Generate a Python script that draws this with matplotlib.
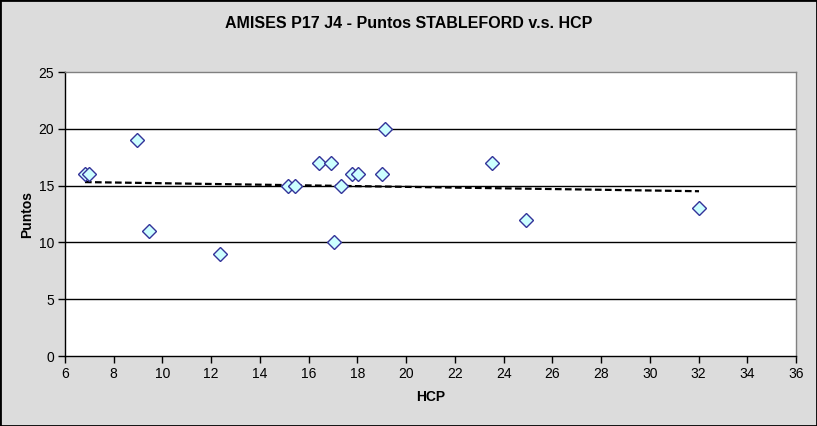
import matplotlib
matplotlib.use("Agg")
import matplotlib.pyplot as plt
import numpy as np
from matplotlib.patches import Rectangle

plt.rcParams['font.family'] = ['Liberation Sans', 'DejaVu Sans']

hcp = [6.82, 7.0, 8.95, 9.45, 12.36, 15.15, 15.44, 16.41, 16.93, 17.02,
       17.32, 17.79, 18.02, 18.99, 19.13, 23.51, 24.9, 32.02]
puntos = [16, 16, 19, 11, 9, 15, 15, 17, 17, 10,
          15, 16, 16, 16, 20, 17, 12, 13]
x_ticks = list(range(6, 37, 2))
y_ticks = [0, 5, 10, 15, 20, 25]
title = "AMISES P17 J4 - Puntos STABLEFORD v.s. HCP"

fig = plt.figure(figsize=(8.17, 4.26), dpi=100)
fig.patch.set_facecolor('#dcdcdc')
fig.patches.append(Rectangle((0, 0), 1, 1, transform=fig.transFigure,
                             fill=False, edgecolor='black', linewidth=2, zorder=10))

ax = fig.add_axes([65/817, 1-356/426, (796-65)/817, (356-72)/426])
ax.set_facecolor('white')
ax.set_xlim(6, 36)
ax.set_ylim(0, 25)
ax.set_xticks(x_ticks)
ax.set_yticks(y_ticks)
for y in y_ticks[1:-1]:
    ax.axhline(y, color='black', linewidth=1.0, zorder=1)

# trend line
coef = np.polyfit(hcp, puntos, 1)
xs = np.array([min(hcp), max(hcp)])
ax.plot(xs, np.polyval(coef, xs), linestyle=(0, (3, 1.5)), color='black',
        linewidth=1.6, zorder=2)

ax.plot(hcp, puntos, linestyle='none', marker='D', markersize=7.4,
        markerfacecolor='#ccffff', markeredgecolor='#333399',
        markeredgewidth=1.0, zorder=3)

for s in ['top', 'right']:
    ax.spines[s].set_color('#808080')
    ax.spines[s].set_linewidth(1.0)
for s in ['left', 'bottom']:
    ax.spines[s].set_color('black')
    ax.spines[s].set_linewidth(1.0)

ax.tick_params(direction='out', length=5, width=1, labelsize=10, colors='black', pad=3)

ax.set_xlabel('HCP', fontsize=10, fontweight='bold')
ax.xaxis.set_label_coords(0.5, -(397-356)/284, transform=ax.transAxes)
ax.xaxis.label.set_va('center')
ax.set_ylabel('Puntos', fontsize=10, fontweight='bold')
ax.yaxis.set_label_coords(-(65-27)/731, 0.5, transform=ax.transAxes)
ax.yaxis.label.set_va('center')
fig.text(0.5, 1-24/426, title, ha='center', va='center', fontsize=11.5, fontweight='bold')

fig.savefig('out.png', dpi=100, facecolor=fig.get_facecolor())
